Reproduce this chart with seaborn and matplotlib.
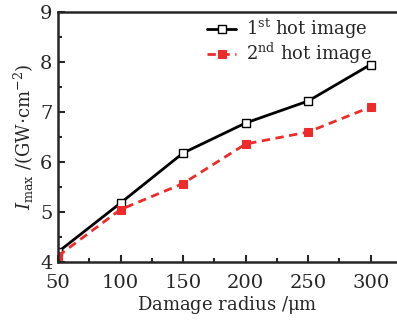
import numpy as np
import pandas as pd
import seaborn as sns
import matplotlib.pyplot as plt
from matplotlib.ticker import MultipleLocator

sns.set_style("ticks")
plt.rcParams["font.family"] = ["DejaVu Serif"]
plt.rcParams["mathtext.fontset"] = "dejavuserif"

# data
radius = [50, 100, 150, 200, 250, 300]
first_hot = [4.20, 5.18, 6.18, 6.78, 7.22, 7.95]
second_hot = [4.12, 5.05, 5.57, 6.36, 6.60, 7.10]

df = pd.DataFrame({"radius": radius + radius,
                   "imax": first_hot + second_hot,
                   "series": ["first"] * 6 + ["second"] * 6})

fig = plt.figure(figsize=(3.97, 3.25), dpi=100)
ax = fig.add_axes([58 / 397, (325 - 262) / 325, 339 / 397, 250 / 325])

d1 = df[df.series == "first"]
d2 = df[df.series == "second"]
sns.lineplot(data=d1, x="radius", y="imax", ax=ax, color="black", lw=2,
             marker="s", markersize=5.5, markerfacecolor="white",
             markeredgecolor="black", markeredgewidth=1,
             label=r"1$^{\rm st}$ hot image")
sns.lineplot(data=d2, x="radius", y="imax", ax=ax, color="#ee2a2a", lw=2,
             linestyle=(0, (3, 2)), marker="s", markersize=5.5,
             markerfacecolor="#ee2a2a", markeredgecolor="#ee2a2a",
             label=r"2$^{\rm nd}$ hot image")

ax.set_xlim(50, 321)
ax.set_ylim(4, 9)
ax.xaxis.set_major_locator(MultipleLocator(50))
ax.xaxis.set_minor_locator(MultipleLocator(25))
ax.yaxis.set_major_locator(MultipleLocator(1))
ax.yaxis.set_minor_locator(MultipleLocator(0.5))
ax.tick_params(which="both", direction="in", labelsize=14, width=1.5)
ax.tick_params(which="major", length=5)
ax.tick_params(which="minor", length=3)
ax.tick_params(axis="x", pad=9)
ax.tick_params(axis="y", pad=4)
for s in ["left", "bottom", "top"]:
    ax.spines[s].set_linewidth(1.8)
ax.spines["right"].set_visible(False)

ax.set_xlabel(r"Damage radius /$\mathrm{\mu}$m", fontsize=13, labelpad=1)
ax.set_ylabel(r"$I_{\rm max}$ /(GW$\cdot$cm$^{-2}$)", fontsize=13, labelpad=3)

ax.legend(loc="upper left", bbox_to_anchor=(0.44, 0.98), frameon=False,
          fontsize=13, handlelength=1.6, handletextpad=0.55,
          borderpad=0, borderaxespad=0, labelspacing=0.0)

fig.savefig("out.png", dpi=100)
